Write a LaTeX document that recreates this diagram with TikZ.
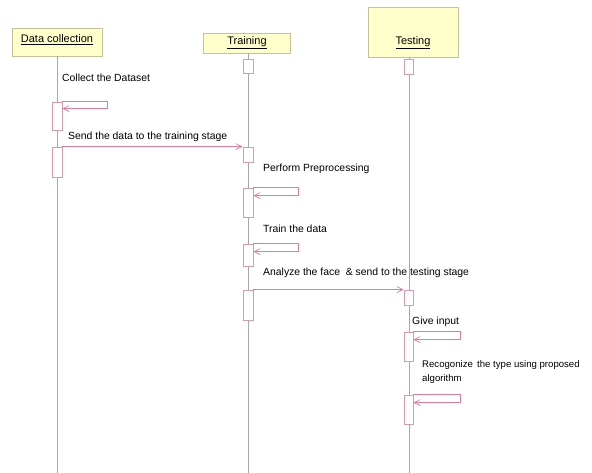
\documentclass[tikz,border=0pt]{standalone}
\usepackage{fontspec}
\setmainfont{Liberation Sans}
\usetikzlibrary{arrows.meta}
\definecolor{boxfill}{HTML}{FFFFCC}
\definecolor{boxline}{HTML}{C9C09A}
\definecolor{lifec}{HTML}{A8A8A8}
\definecolor{msgc}{HTML}{E07C98}
\definecolor{actc}{HTML}{D89AAC}
\tikzset{
  objbox/.style={draw=boxline, fill=boxfill, line width=0.8pt, inner sep=0pt},
  lifeline/.style={draw=lifec, line width=0.9pt},
  actbox/.style={draw=actc, fill=white, line width=0.8pt, inner sep=0pt, minimum width=10pt},
  msgline/.style={draw=msgc, line width=0.7pt, -{Straight Barb[length=6pt,width=6pt]}},
  lbl/.style={font=\fontsize{10.4}{14}\selectfont, inner sep=0pt, anchor=west, align=left},
  title/.style={font=\fontsize{11}{12}\selectfont, inner sep=0pt}
}
\begin{document}
\begin{tikzpicture}[x=1pt,y=-1pt]
\useasboundingbox (0,0) rectangle (592,473);
% object boxes
\node[objbox, minimum width=90pt, minimum height=28pt] (dc) at (57,42) {};
\node[objbox, minimum width=87pt, minimum height=20pt] (tr) at (246.5,43) {};
\node[objbox, minimum width=90pt, minimum height=50pt] (te) at (413,32) {};
\node[title] (dct) at (57,40) {\underline{Data collection}};
\node[title] (trt) at (247,43) {\underline{Training}};
\node[title] (tet) at (413,43) {\underline{Testing}};
% lifeline ends
\coordinate (dcb) at (57,473);
\coordinate (trb) at (248,473);
\coordinate (teb) at (409,473);
\draw[lifeline] (57,56) -- (dcb);
\draw[lifeline] (248,53) -- (trb);
\draw[lifeline] (409,57) -- (teb);
% top small boxes
\node[actbox, minimum height=14pt] (trs) at (248,66) {};
\node[actbox, minimum width=9pt, minimum height=15pt] (tes) at (408.5,66.5) {};
% activations
\node[actbox, minimum height=28pt] (dca1) at (57,116) {};
\node[actbox, minimum height=30pt] (dca2) at (57,162) {};
\node[actbox, minimum height=15pt] (tra1) at (248,154.5) {};
\node[actbox, minimum height=29pt] (tra2) at (248,202.5) {};
\node[actbox, minimum height=22pt] (tra3) at (248,255) {};
\node[actbox, minimum height=30pt] (tra4) at (248,305) {};
\node[actbox, minimum width=9pt, minimum height=15pt] (tea1) at (408.5,297.5) {};
\node[actbox, minimum width=9pt, minimum height=29pt] (tea2) at (408.5,346.5) {};
\node[actbox, minimum width=9pt, minimum height=29pt] (tea3) at (408.5,409.5) {};
% self messages
\draw[msgline] (dca1.north east) -- ++(45,0) -- ++(0,7) -- ([yshift=-7pt]dca1.north east);
\draw[msgline] (tra2.north east) -- ++(45,0) -- ++(0,8) -- ([yshift=-8pt]tra2.north east);
\draw[msgline] (tra3.north east) -- ++(45,0) -- ++(0,8) -- ([yshift=-8pt]tra3.north east);
\draw[msgline] (tea2.north east) -- ++(47,0) -- ++(0,8) -- ([yshift=-8pt]tea2.north east);
\draw[msgline] (tea3.north east) -- ++(47,0) -- ++(0,8) -- ([yshift=-8pt]tea3.north east);
% messages between lifelines
\draw[msgline] (dca2.north east) -- (tra1.north west);
\draw[msgline] (tra4.north east) -- (tea1.north west);
% labels
\node[lbl] (l1) at (62,78) {Collect the Dataset};
\node[lbl] (l2) at (68,137) {Send the data to the training stage};
\node[lbl] (l3) at (263,169) {Perform Preprocessing};
\node[lbl] (l4) at (263,229) {Train the data};
\node[lbl] (l5) at (263,273) {Analyze the face\ \ \& send to the testing stage};
\node[lbl] (l6) at (412,322) {Give input};
\node[lbl, font=\fontsize{9.6}{14}\selectfont] (l7) at (422,372) {Recogonize\hspace{0.45em}the type using proposed\\algorithm};
\end{tikzpicture}
\end{document}
